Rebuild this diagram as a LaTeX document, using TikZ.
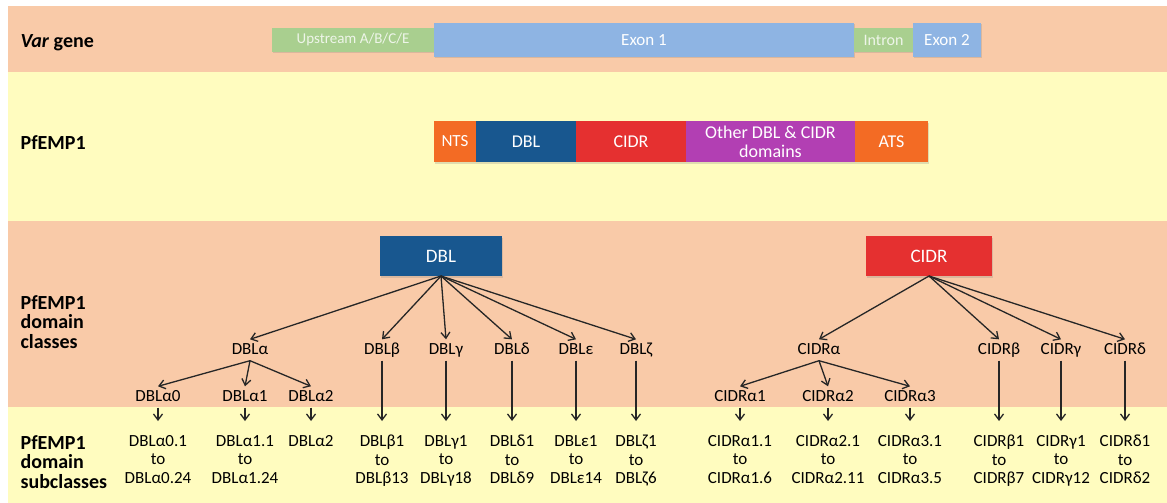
\documentclass[tikz,border=0pt]{standalone}
\usepackage{fontspec}
\setmainfont{Carlito}
\usepackage{xcolor}
\usetikzlibrary{arrows.meta,shadows}

\definecolor{bandorange}{HTML}{F9CAA8}
\definecolor{bandyellow}{HTML}{FFFCBF}
\definecolor{genegreen}{HTML}{A9CF8F}
\definecolor{geneblue}{HTML}{8EB4E3}
\definecolor{tsorange}{HTML}{F36B24}
\definecolor{dblblue}{HTML}{18578F}
\definecolor{cidrred}{HTML}{E53030}
\definecolor{otherpurple}{HTML}{B23FB3}

\tikzset{
  rowlabel/.style={anchor=west, align=left, text=black, font=\fontsize{20}{19.5}\selectfont\bfseries},
  bar/.style={fill=#1, draw=none, inner sep=0pt, outer sep=0pt, text=white,
    drop shadow={shadow xshift=1pt, shadow yshift=-1.5pt, opacity=0.25}},
  lbl/.style={font=\fontsize{17}{18.5}\selectfont, text=black, text height=12pt, text depth=3pt, inner sep=3pt},
  sublbl/.style={font=\fontsize{17}{18.5}\selectfont, text=black, align=center, anchor=north, inner sep=3pt},
  arr/.style={->, line width=1.3pt, draw=black!85},
  subarr/.style={arr, shorten >=11pt}
}

\begin{document}
\begin{tikzpicture}[x=1pt, y=-1pt, >={Straight Barb[length=6pt,width=9pt]}]
    \useasboundingbox (0,0) rectangle (1167,503);

    % Bands
    \fill[bandorange] (8,6) rectangle (1167,72);
    \fill[bandyellow] (8,72) rectangle (1167,221);
    \fill[bandorange] (8,221) rectangle (1167,407);
    \fill[bandyellow] (8,407) rectangle (1167,503);

    % Row labels
    \node[rowlabel] (lgene) at (17,43) {\textit{Var} gene};
    \node[rowlabel] (lprot) at (17,143) {PfEMP1};
    \node[rowlabel] (lclass) at (17,322) {PfEMP1\\domain\\classes};
    \node[rowlabel] (lsub) at (17,462) {PfEMP1\\domain\\subclasses};

    % Var gene
    \node[bar=genegreen, minimum width=162pt, minimum height=24pt, text=white!80!genegreen, font=\fontsize{15}{18}\selectfont] (upstr) at (353,40) {Upstream A/B/C/E};
    \node[bar=geneblue, minimum width=420pt, minimum height=34pt, font=\fontsize{17}{18}\selectfont] (exon1) at (644,40) {Exon 1};
    \node[bar=genegreen, minimum width=59pt, minimum height=24pt, text=white!80!genegreen, font=\fontsize{16}{18}\selectfont] (intron) at (883.5,40) {Intron};
    \node[bar=geneblue, minimum width=68pt, minimum height=34pt, font=\fontsize{17}{18}\selectfont] (exon2) at (947,40) {Exon 2};

    % PfEMP1 protein
    \node[bar=tsorange, minimum width=42pt, minimum height=41pt, anchor=west, font=\fontsize{17}{18}\selectfont] (nts) at (434,141.5) {NTS};
    \node[bar=dblblue, minimum width=100pt, minimum height=41pt, anchor=west, font=\fontsize{18}{18}\selectfont] (pdbl) at (nts.east) {DBL};
    \node[bar=cidrred, minimum width=110pt, minimum height=41pt, anchor=west, font=\fontsize{18}{18}\selectfont] (pcidr) at (pdbl.east) {CIDR};
    \node[bar=otherpurple, minimum width=169pt, minimum height=41pt, anchor=west, align=center, font=\fontsize{18}{19}\selectfont] (pother) at (pcidr.east) {Other DBL \& CIDR\\domains};
    \node[bar=tsorange, minimum width=73pt, minimum height=41pt, anchor=west, font=\fontsize{18}{18}\selectfont] (ats) at (pother.east) {ATS};

    % Domain boxes
    \node[bar=dblblue, minimum width=122pt, minimum height=40pt, font=\fontsize{19}{18}\selectfont] (dbl) at (441,256) {DBL};
    \node[bar=cidrred, minimum width=126pt, minimum height=40pt, font=\fontsize{19}{18}\selectfont] (cidr) at (929,256) {CIDR};

    % DBL classes
    \node[lbl] (dbla) at (250,350) {DBLα};
    \node[lbl] (dblb) at (382,350) {DBLβ};
    \node[lbl] (dblg) at (446,350) {DBLγ};
    \node[lbl] (dbld) at (512,350) {DBLδ};
    \node[lbl] (dble) at (576,350) {DBLε};
    \node[lbl] (dblz) at (636,350) {DBLζ};
    \node[lbl] (dbla0) at (158,397) {DBLα0};
    \node[lbl] (dbla1) at (245,397) {DBLα1};
    \node[lbl] (dbla2) at (311,397) {DBLα2};

    % CIDR classes
    \node[lbl] (cidra) at (819,350) {CIDRα};
    \node[lbl] (cidrb) at (999,350) {CIDRβ};
    \node[lbl] (cidrg) at (1061,350) {CIDRγ};
    \node[lbl] (cidrd) at (1125,350) {CIDRδ};
    \node[lbl] (cidra1) at (740,397) {CIDRα1};
    \node[lbl] (cidra2) at (828,397) {CIDRα2};
    \node[lbl] (cidra3) at (910,397) {CIDRα3};

    % Subclasses
    \node[sublbl] (sa0) at (158,432) {DBLα0.1\\to\\DBLα0.24};
    \node[sublbl] (sa1) at (245,432) {DBLα1.1\\to\\DBLα1.24};
    \node[sublbl] (sa2) at (311,432) {DBLα2};
    \node[sublbl] (sb) at (382,432) {DBLβ1\\to\\DBLβ13};
    \node[sublbl] (sg) at (446,432) {DBLγ1\\to\\DBLγ18};
    \node[sublbl] (sd) at (512,432) {DBLδ1\\to\\DBLδ9};
    \node[sublbl] (se) at (576,432) {DBLε1\\to\\DBLε14};
    \node[sublbl] (sz) at (636,432) {DBLζ1\\to\\DBLζ6};
    \node[sublbl] (sca1) at (740,432) {CIDRα1.1\\to\\CIDRα1.6};
    \node[sublbl] (sca2) at (828,432) {CIDRα2.1\\to\\CIDRα2.11};
    \node[sublbl] (sca3) at (910,432) {CIDRα3.1\\to\\CIDRα3.5};
    \node[sublbl] (scb) at (999,432) {CIDRβ1\\to\\CIDRβ7};
    \node[sublbl] (scg) at (1061,432) {CIDRγ1\\to\\CIDRγ12};
    \node[sublbl] (scd) at (1125,432) {CIDRδ1\\to\\CIDRδ2};

    % Arrows DBL
    \draw[arr] (dbl.south) -- (dbla.north);
    \draw[arr] (dbl.south) -- (dblb.north);
    \draw[arr] (dbl.south) -- (dblg.north);
    \draw[arr] (dbl.south) -- (dbld.north);
    \draw[arr] (dbl.south) -- (dble.north);
    \draw[arr] (dbl.south) -- (dblz.north);
    \draw[arr] (dbla.south) -- (dbla0.north);
    \draw[arr] (dbla.south) -- (dbla1.north);
    \draw[arr] (dbla.south) -- (dbla2.north);

    % Arrows CIDR
    \draw[arr] (cidr.south) -- (cidra.north);
    \draw[arr] (cidr.south) -- (cidrb.north);
    \draw[arr] (cidr.south) -- (cidrg.north);
    \draw[arr] (cidr.south) -- (cidrd.north);
    \draw[arr] (cidra.south) -- (cidra1.north);
    \draw[arr] (cidra.south) -- (cidra2.north);
    \draw[arr] (cidra.south) -- (cidra3.north);

    % Arrows to subclasses
    \draw[subarr] (dbla0.south) -- (sa0.north);
    \draw[subarr] (dbla1.south) -- (sa1.north);
    \draw[subarr] (dbla2.south) -- (sa2.north);
    \draw[subarr] (dblb.south) -- (sb.north);
    \draw[subarr] (dblg.south) -- (sg.north);
    \draw[subarr] (dbld.south) -- (sd.north);
    \draw[subarr] (dble.south) -- (se.north);
    \draw[subarr] (dblz.south) -- (sz.north);
    \draw[subarr] (cidra1.south) -- (sca1.north);
    \draw[subarr] (cidra2.south) -- (sca2.north);
    \draw[subarr] (cidra3.south) -- (sca3.north);
    \draw[subarr] (cidrb.south) -- (scb.north);
    \draw[subarr] (cidrg.south) -- (scg.north);
    \draw[subarr] (cidrd.south) -- (scd.north);

\end{tikzpicture}
\end{document}
